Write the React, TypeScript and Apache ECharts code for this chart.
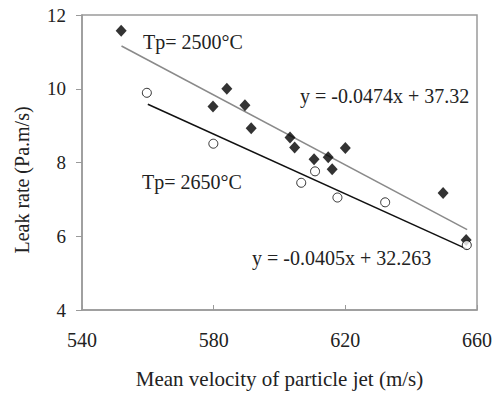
import React, { useEffect, useRef } from "react";
import * as echarts from "echarts";

const diamondData: [number, number][] = [
  [551.9, 11.57], [579.8, 9.52], [584.0, 10.0], [589.5, 9.55], [591.4, 8.93],
  [603.2, 8.68], [604.6, 8.41], [610.5, 8.09], [614.8, 8.14], [616.0, 7.82],
  [620.0, 8.39], [649.7, 7.17], [656.7, 5.9],
];
const circleData: [number, number][] = [
  [559.7, 9.89], [579.9, 8.51], [606.6, 7.45], [610.8, 7.76], [617.6, 7.05],
  [632.1, 6.92], [656.9, 5.76],
];
const trend2500: [number, number][] = [
  [552, 11.16], [657, 6.18],
];
const trend2650: [number, number][] = [
  [560, 9.58], [657, 5.65],
];
const xTicks = [540, 580, 620, 660];
const yTicks = [4, 6, 8, 10, 12];

const FONT = "'Liberation Serif', 'Times New Roman', serif";

export default function App() {
  const ref = useRef<HTMLDivElement>(null);
  useEffect(() => {
    document.body.style.margin = "0";
    if (!ref.current) return;
    const chart = echarts.init(ref.current, undefined, { renderer: "svg" });
    chart.setOption({
      animation: false,
      backgroundColor: "#fff",
      textStyle: { fontFamily: FONT },
      grid: { left: 82, right: 17, top: 15, bottom: 82, show: true, borderColor: "#9a9a9a", borderWidth: 1.5 },
      xAxis: {
        type: "value",
        min: xTicks[0],
        max: xTicks[xTicks.length - 1],
        interval: 40,
        axisLine: { show: true, lineStyle: { color: "#9a9a9a", width: 1.5 } },
        axisTick: { show: true, inside: true, length: 5, lineStyle: { color: "#9a9a9a" } },
        splitLine: { show: false },
        axisLabel: { color: "#222", fontSize: 20, fontFamily: FONT, margin: 20 },
        name: "Mean velocity of particle jet (m/s)",
        nameLocation: "middle",
        nameGap: 58,
        nameTextStyle: { color: "#222", fontSize: 21, fontFamily: FONT },
      },
      yAxis: {
        type: "value",
        min: yTicks[0],
        max: yTicks[yTicks.length - 1],
        interval: 2,
        axisLine: { show: true, lineStyle: { color: "#9a9a9a", width: 1.5 } },
        axisTick: { show: true, inside: false, length: 6, lineStyle: { color: "#9a9a9a" } },
        splitLine: { show: false },
        axisLabel: { color: "#222", fontSize: 19, fontFamily: FONT, margin: 16 },
      },
      series: [
        {
          type: "line",
          data: trend2500,
          symbol: "none",
          lineStyle: { color: "#8a8a8a", width: 1.5 },
          z: 1,
        },
        {
          type: "line",
          data: trend2650,
          symbol: "none",
          lineStyle: { color: "#111", width: 1.5 },
          z: 1,
        },
        {
          type: "scatter",
          data: diamondData,
          symbol: "diamond",
          symbolSize: [11, 12],
          itemStyle: { color: "#000" },
          z: 3,
        },
        {
          type: "scatter",
          data: circleData,
          symbol: "circle",
          symbolSize: 9,
          itemStyle: { color: "#fff", borderColor: "#000", borderWidth: 1 },
          z: 3,
        },
      ],
      graphic: [
        { type: "text", x: 22, y: 180, rotation: Math.PI / 2, style: { text: "Leak rate (Pa.m/s)", fill: "#222", font: `20px ${FONT}`, align: "center", verticalAlign: "middle" } },
        { type: "text", x: 143, y: 42, style: { text: "Tp= 2500°C", fill: "#222", font: `20px ${FONT}`, verticalAlign: "middle" } },
        { type: "text", x: 300, y: 96, style: { text: "y = -0.0474x + 37.32", fill: "#222", font: `20px ${FONT}`, verticalAlign: "middle" } },
        { type: "text", x: 142, y: 182, style: { text: "Tp= 2650°C", fill: "#222", font: `20px ${FONT}`, verticalAlign: "middle" } },
        { type: "text", x: 252, y: 258, style: { text: "y = -0.0405x + 32.263", fill: "#222", font: `20px ${FONT}`, verticalAlign: "middle" } },
      ],
    });
    return () => chart.dispose();
  }, []);
  return <div ref={ref} style={{ width: 495, height: 394 }} />;
}
